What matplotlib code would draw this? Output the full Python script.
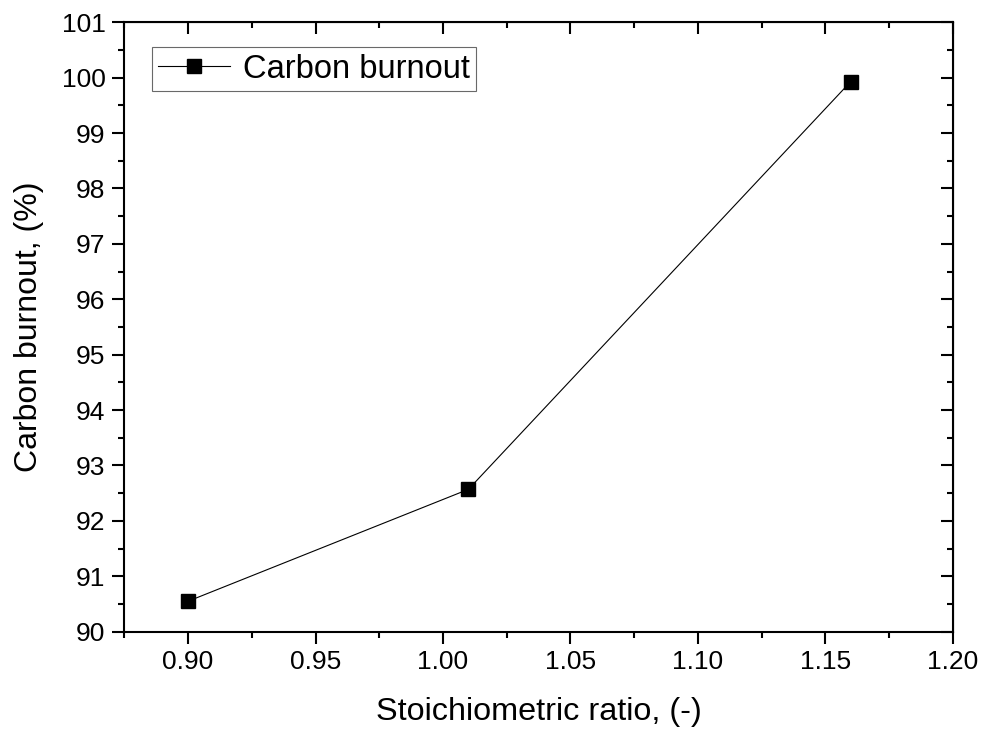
import matplotlib
matplotlib.use("Agg")
import matplotlib.pyplot as plt
from matplotlib.ticker import MultipleLocator

ratio = [0.90, 1.01, 1.16]
burnout = [90.55, 92.57, 99.93]

plt.rcParams["font.family"] = ["Liberation Sans", "DejaVu Sans"]

fig = plt.figure(figsize=(9.83, 7.33), dpi=100)
ax = fig.add_axes([0.1265, 0.1382, 0.8427, 0.8314])

ax.plot(ratio, burnout, color="black", lw=0.8, marker="s", ms=9.5,
        mfc="black", mec="black", label="Carbon burnout")

ax.set_xlim(0.875, 1.20)
ax.set_ylim(90, 101)
ax.xaxis.set_major_locator(MultipleLocator(0.05))
ax.xaxis.set_minor_locator(MultipleLocator(0.025))
ax.yaxis.set_major_locator(MultipleLocator(1))
ax.yaxis.set_minor_locator(MultipleLocator(0.5))
ax.xaxis.set_major_formatter(lambda v, p: f"{v:.2f}")

for s in ax.spines.values():
    s.set_linewidth(1.5)
ax.tick_params(which="both", direction="out", width=1.5, labelsize=19,
               top=False, right=False)
ax.tick_params(which="major", length=8.5, pad=5)
ax.tick_params(which="minor", length=4.5)

# inward mirrored ticks on top and right
axt = ax.secondary_xaxis("top")
axt.xaxis.set_major_locator(MultipleLocator(0.05))
axt.xaxis.set_minor_locator(MultipleLocator(0.025))
axt.tick_params(which="both", direction="in", width=1.5, labeltop=False)
axt.tick_params(which="major", length=8.5)
axt.tick_params(which="minor", length=4.5)
axr = ax.secondary_yaxis("right")
axr.yaxis.set_major_locator(MultipleLocator(1))
axr.yaxis.set_minor_locator(MultipleLocator(0.5))
axr.tick_params(which="both", direction="in", width=1.5, labelright=False)
axr.tick_params(which="major", length=8.5)
axr.tick_params(which="minor", length=4.5)

ax.set_xlabel("Stoichiometric ratio, (-)", fontsize=23.3, labelpad=16)
ax.set_ylabel("Carbon burnout, (%)", fontsize=23, labelpad=13)

leg = ax.legend(loc="upper left", bbox_to_anchor=(0.033, 0.959), fontsize=23.5,
                frameon=True, fancybox=False, borderaxespad=0, handlelength=2.2,
                handletextpad=0.4, borderpad=0.2)
leg.get_frame().set_edgecolor("#444444")
leg.get_frame().set_linewidth(0.8)

fig.savefig("out.png", dpi=100)
